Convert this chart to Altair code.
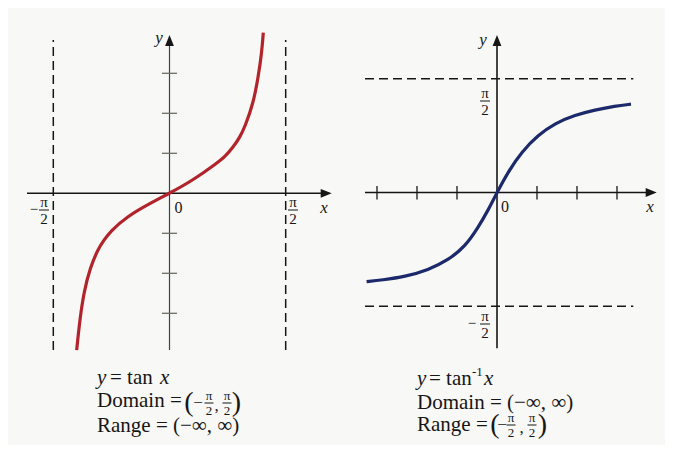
import math
import altair as alt
import pandas as pd

# ---------------- data ----------------
# y = tan x  (x in radians, y in units)
tan_x = [-1.255, -1.21, -1.156, -1.075, -0.963, -0.88, -0.804, -0.579, -0.264, 0.0,
         0.32, 0.638, 0.75, 0.865, 0.953, 1.02, 1.133, 1.2, 1.246, 1.268]
tan_y = [-3.92, -3.125, -2.46, -1.875, -1.375, -1.16, -0.96, -0.585, -0.25, 0.0,
         0.33, 0.75, 0.915, 1.165, 1.41, 1.665, 2.25, 2.915, 3.5, 4.015]

# y = arctan x
atan_x = [-3.26, -2.88, -2.3, -1.7175, -1.2175, -0.8, -0.4675, -0.2175, 0.0,
          0.28, 0.62, 1.03, 1.45, 1.95, 2.45, 2.95, 3.35]
atan_y = [-1.232, -1.209, -1.163, -1.07, -0.932, -0.749, -0.48, -0.24, 0.0,
          0.287, 0.564, 0.794, 0.956, 1.07, 1.14, 1.195, 1.22]

tick_vals = [-3, -2, -1, 1, 2, 3]
HALF_PI = math.pi / 2

# ---------------- layout ----------------
LW, RW, H, SP = 330, 317, 437, 10
BG = "#f8f8f6"
INK = "#161616"
SERIF = "Liberation Serif"

# page-pixel -> data helpers for each panel (annotation placement only)
L_OX, L_OY, L_SX, L_SY = 169.5, 193.3, 73.97, 40.0
R_OX, R_OY, R_SX, R_SY = 497.0, 192.5, 40.0, 72.4


def lx(p): return (p - L_OX) / L_SX
def ly(p): return (L_OY - p) / L_SY
def rx(p): return (p - R_OX) / R_SX
def ry(p): return (R_OY - p) / R_SY


L_XD = [lx(8), lx(8 + LW)]
L_YD = [ly(8 + H), ly(8)]
R_XD = [rx(8 + LW + SP), rx(8 + LW + SP + RW)]
R_YD = [ry(8 + H), ry(8)]


def enc(xd, yd, x="x", y="y"):
    return dict(
        x=alt.X(f"{x}:Q", scale=alt.Scale(domain=xd, nice=False, zero=False), axis=None),
        y=alt.Y(f"{y}:Q", scale=alt.Scale(domain=yd, nice=False, zero=False), axis=None),
    )


def segs(rows, xd, yd, color=INK, width=1.6, dash=None):
    df = pd.DataFrame(rows, columns=["x", "y", "x2", "y2"])
    kw = dict(color=color, strokeWidth=width)
    if dash:
        kw["strokeDash"] = dash
    e = enc(xd, yd)
    return alt.Chart(df).mark_rule(**kw).encode(
        **e, x2="x2:Q", y2="y2:Q")


def arrows(rows, xd, yd, shape):
    df = pd.DataFrame(rows, columns=["x", "y"])
    return alt.Chart(df).mark_point(
        shape=shape, filled=True, size=121, color=INK, opacity=1, strokeWidth=0
    ).encode(**enc(xd, yd))


def texts(rows, xd, yd):
    """rows: (text, x, y, size, italic, align, baseline)"""
    df = pd.DataFrame(rows, columns=["t", "x", "y", "size", "it", "align", "base"])
    layers = []
    for (size, it, align, base), g in df.groupby(["size", "it", "align", "base"]):
        layers.append(
            alt.Chart(g).mark_text(
                font=SERIF, fontSize=float(size),
                fontStyle="italic" if it else "normal",
                align=align, baseline=base, color=INK
            ).encode(**enc(xd, yd), text="t:N")
        )
    return layers


def frac(cx, cy, conv_x, conv_y, size=14, up=7.5, down=8.0, half=4.5):
    """pi over 2, centred on the bar at page (cx, cy)"""
    t = [("π", conv_x(cx), conv_y(cy - up), size, False, "center", "middle"),
         ("2", conv_x(cx), conv_y(cy + down), size, False, "center", "middle")]
    bar = [(conv_x(cx - half), conv_y(cy), conv_x(cx + half), conv_y(cy))]
    return t, bar


UP = "M0,-1L0.8,1L-0.8,1Z"
RIGHT = "M1,0L-1,0.8L-1,-0.8Z"

# ================= left panel: y = tan x =================
L = []
L.append(segs([(lx(27), 0, lx(322), 0)], L_XD, L_YD))                       # x axis
L.append(segs([(0, ly(350), 0, ly(44))], L_XD, L_YD, color="#3a4450", width=1.2))  # y axis
L.append(segs([(-HALF_PI, ly(350), -HALF_PI, ly(40)),
               (HALF_PI, ly(350), HALF_PI, ly(40))], L_XD, L_YD, width=1.5, dash=[9, 5]))
L.append(segs([(lx(162), v, lx(177), v) for v in tick_vals], L_XD, L_YD,
              color="#6b6f66", width=1.3))
L.append(arrows([(0, ly(40.5))], L_XD, L_YD, UP))
L.append(arrows([(lx(326.2), 0)], L_XD, L_YD, RIGHT))
L.append(alt.Chart(pd.DataFrame({"x": tan_x, "y": tan_y})).mark_line(
    color="#b1242b", strokeWidth=3.2, interpolate="basis").encode(**enc(L_XD, L_YD)))

lt = [
    ("y", lx(159), ly(38), 17, True, "center", "middle"),
    ("x", lx(324), ly(208), 17, True, "center", "middle"),
    ("0", lx(178.5), ly(208), 16, False, "center", "middle"),
    ("−", lx(34), ly(209), 15, False, "center", "middle"),
    ("y", lx(97), ly(384), 21, True, "left", "alphabetic"),
    ("= tan", lx(110), ly(384), 21, False, "left", "alphabetic"),
    ("x", lx(160), ly(384), 21, True, "left", "alphabetic"),
    ("Domain =", lx(97), ly(407), 21, False, "left", "alphabetic"),
    ("Range = (−∞, ∞)", lx(97), ly(432), 21, False, "left", "alphabetic"),
    ("(", lx(189), ly(403), 28, False, "center", "middle"),
    ("−", lx(198), ly(403), 17, False, "center", "middle"),
    (",", lx(216.5), ly(406), 17, False, "center", "middle"),
    (")", lx(236.5), ly(403), 28, False, "center", "middle"),
]
lbars = []
for cx, cy in [(44, 210), (293, 210)]:
    t, b = frac(cx, cy, lx, ly, 15, 8.5, 9.0, 5.0)
    lt += t
    lbars += b
for cx, cy in [(209, 403), (227, 403)]:
    t, b = frac(cx, cy, lx, ly, 13)
    lt += t
    lbars += b
L.append(segs(lbars, L_XD, L_YD, width=1.0))
L += texts(lt, L_XD, L_YD)
left = alt.layer(*L).properties(width=LW, height=H)

# ================= right panel: y = arctan x =================
R = []
R.append(segs([(rx(365), 0, rx(647), 0)], R_XD, R_YD))                      # x axis
R.append(segs([(0, ry(348.3), 0, ry(44))], R_XD, R_YD))                    # y axis
R.append(segs([(rx(365), HALF_PI, rx(633.3), HALF_PI),
               (rx(365), -HALF_PI, rx(633.3), -HALF_PI)], R_XD, R_YD, width=1.5, dash=[9, 5]))
R.append(segs([(v, ry(199.5), v, ry(186)) for v in tick_vals], R_XD, R_YD, width=1.3))
R.append(arrows([(0, ry(40.5))], R_XD, R_YD, UP))
R.append(arrows([(rx(651.2), 0)], R_XD, R_YD, RIGHT))
R.append(alt.Chart(pd.DataFrame({"x": atan_x, "y": atan_y})).mark_line(
    color="#1c2a6c", strokeWidth=3.2, interpolate="basis").encode(**enc(R_XD, R_YD)))

rt = [
    ("y", rx(483), ry(40), 17, True, "center", "middle"),
    ("x", rx(650), ry(207), 17, True, "center", "middle"),
    ("0", rx(505), ry(207), 16, False, "center", "middle"),
    ("−", rx(472), ry(323), 15, False, "center", "middle"),
    ("y", rx(417), ry(385), 21, True, "left", "alphabetic"),
    ("= tan", rx(429), ry(385), 21, False, "left", "alphabetic"),
    ("-1", rx(472), ry(376), 13, False, "left", "alphabetic"),
    ("x", rx(484), ry(385), 21, True, "left", "alphabetic"),
    ("Domain = (−∞, ∞)", rx(417), ry(409), 21, False, "left", "alphabetic"),
    ("Range =", rx(417), ry(431), 21, False, "left", "alphabetic"),
    ("(", rx(495), ry(425), 28, False, "center", "middle"),
    ("−", rx(502), ry(425), 17, False, "center", "middle"),
    (",", rx(521.5), ry(428), 17, False, "center", "middle"),
    (")", rx(542.5), ry(425), 28, False, "center", "middle"),
]
rbars = []
for cx, cy in [(485, 101), (485, 324)]:
    t, b = frac(cx, cy, rx, ry, 15, 8.5, 9.0, 5.0)
    rt += t
    rbars += b
for cx, cy in [(511, 425), (532, 425)]:
    t, b = frac(cx, cy, rx, ry, 13)
    rt += t
    rbars += b
R.append(segs(rbars, R_XD, R_YD, width=1.0))
R += texts(rt, R_XD, R_YD)
right = alt.layer(*R).properties(width=RW, height=H)

chart = alt.hconcat(left, right, spacing=SP).properties(
    padding=0, background=BG
).configure_view(stroke=None)

chart.save("out.html", embed_options={"renderer": "svg", "actions": False})
